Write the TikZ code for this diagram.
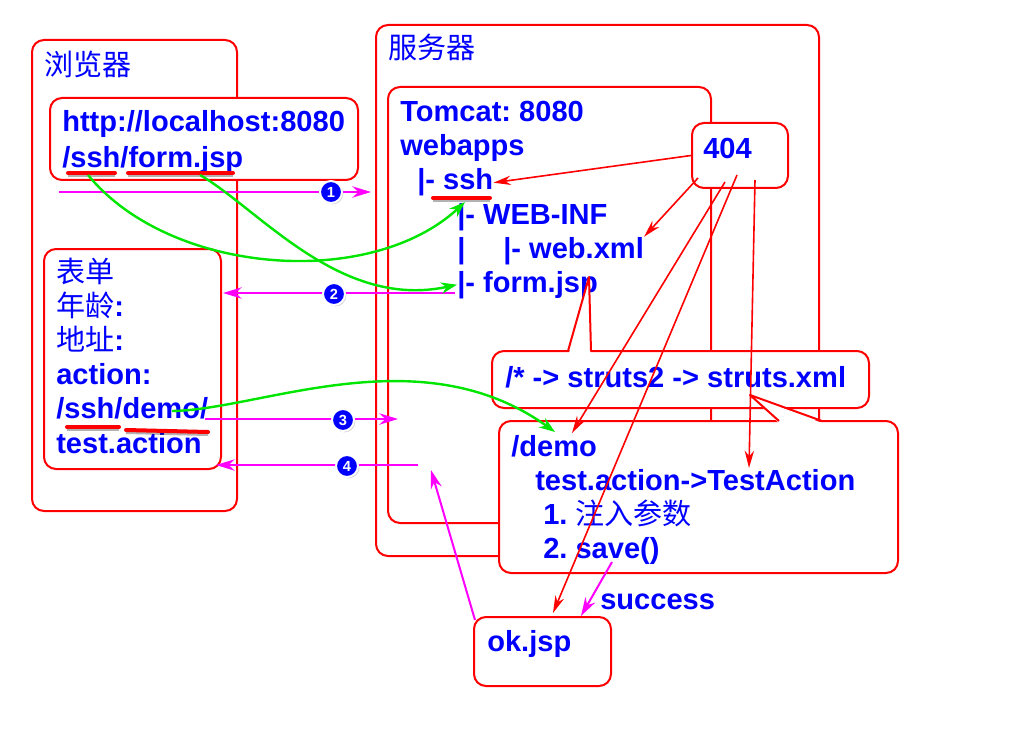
\documentclass[tikz,border=0pt]{standalone}
\usepackage{fontspec}
\setmainfont{Liberation Sans}
\newfontfamily\cjk{Noto Sans CJK SC}
\usetikzlibrary{arrows.meta,fit,shadows}
\definecolor{boxred}{RGB}{255,0,0}
\definecolor{txblue}{RGB}{0,0,255}
\definecolor{reqpink}{RGB}{255,0,255}
\definecolor{jumpgreen}{RGB}{0,230,0}
\tikzset{
  box/.style={draw=boxred,fill=white,line width=1.5pt,rounded corners=9pt,inner sep=0pt},
  txt/.style={anchor=base west,inner sep=0pt,text=txblue,font=\frenchspacing\bfseries\fontsize{21.8}{26}\selectfont},
  hz/.style={font=\cjk\fontsize{21.8}{26}\selectfont},
  num/.style={circle,fill=txblue,draw=white,line width=1.5pt,inner sep=0pt,minimum size=16.5pt,
    text=white,font=\bfseries\fontsize{11}{11}\selectfont,
    drop shadow={opacity=.4,shadow xshift=1pt,shadow yshift=-1pt}},
  req/.style={reqpink,line width=1.5pt,-{Stealth[length=14pt,width=8.5pt]}},
  jump/.style={jumpgreen,line width=1.8pt,-{Stealth[length=12pt,width=8.5pt]}},
  miss/.style={boxred,line width=1.2pt,-{Stealth[length=13pt,width=7pt]}},
  redbar/.style={boxred,line width=3pt,line cap=round,
    preaction={draw=black,opacity=.3,line width=3pt,transform canvas={yshift=-1.5pt}}},
  tip/.style={draw=boxred,line width=1.5pt,line join=round},
}
\newcommand\hzt[1]{{\cjk\mdseries #1}}
\begin{document}
\begin{tikzpicture}[x=0.75pt,y=-0.75pt]
\useasboundingbox (0,0) rectangle (1024,738);
% browser side
\node[box,fit={(32,40)(237,511)}] (browser) {};
\node[txt,hz] (browser-title) at (44,76) {浏览器};
\node[box,fit={(50,98)(358,180)}] (url) {};
\node[txt] (url-1) at (62,132) {http://localhost:8080};
\node[txt] (url-2) at (62,167) {/ssh/form.jsp};
\node[box,fit={(44,249)(221,469)}] (form) {};
\foreach \t [count=\i] in {{\hzt{表单}},{\hzt{年龄}:},{\hzt{地址}:},action:,/ssh/demo/,test.action}
  \node[txt] (form-\i) at (56,{282+(\i-1)*34.2}) {\t};
% server side
\node[box,fit={(376,25)(819,556)}] (server) {};
\node[txt,hz] (server-title) at (388,59) {服务器};
\node[box,fit={(388,87)(711,523)}] (tomcat) {};
\foreach \x/\t [count=\i] in {400/Tomcat: 8080,400/webapps,417/{|- ssh},457/{|- WEB-INF},457/{|\hspace{28.4pt}|- web.xml},457/{|- form.jsp}}
  \node[txt] (tc-\i) at (\x,{122+(\i-1)*34}) {\t};
\node[box,fit={(692,123)(788,188)}] (e404) {};
\node[txt] (e404-t) at (703,159) {404};
% struts callout
\node[box,fit={(492,351)(869,408)}] (struts) {};
\fill[white] (569,353) -- (589,277) -- (590.5,353) -- cycle;
\draw[tip] (568,351) -- (589,277) -- (591,351);
\node[txt] (struts-t) at (505,387) {/* -> struts2 -> struts.xml};
% action callout
\node[box,fit={(499,421)(898,573)}] (demo) {};
\fill[white] (779,423) -- (750,395) -- (822,423) -- cycle;
\draw[tip] (779,421) -- (750,395) -- (822,421);
\node[txt] (demo-1) at (511,456) {/demo};
\node[txt] (demo-2) at (535,490) {test.action->TestAction};
\node[txt] (demo-3) at (543,524) {1. \hzt{注入参数}};
\node[txt] (demo-4) at (543,558) {2. save()};
\node[box,fit={(474,617)(611,686)}] (okjsp) {};
\node[txt] (okjsp-t) at (487,651) {ok.jsp};
\node[txt] (success) at (600,609) {success};
% underlines
\draw[redbar] (68,173) coordinate (u-ssh) -- (115,173);
\draw[redbar] (128,173) coordinate (u-form) -- (233,173);
\draw[redbar] (433,198) -- (490,198);
\draw[redbar] (67,427) -- (119,427);
\draw[redbar] (126,430) -- (208,432);
% requests
\coordinate (r1a) at (59,192);   \coordinate (r1b) at (371,192);
\coordinate (r2a) at (455,293);  \coordinate (r2b) at (223,293);
\coordinate (r3a) at (205,419);  \coordinate (r3b) at (398,419);
\coordinate (r4a) at (418,465);  \coordinate (r4b) at (216,465);
\draw[req] (r1a) -- (r1b);
\draw[req] (r2a) -- (r2b);
\draw[req] (r3a) -- (r3b);
\draw[req] (r4a) -- (r4b);
\node[num] (n1) at (331,192) {1};
\node[num] (n2) at (334,294) {2};
\node[num] (n3) at (343,420) {3};
\node[num] (n4) at (347,466) {4};
\coordinate (save-end) at (612,562);
\coordinate (ok-in) at (581,616);
\coordinate (ok-out) at (475,620);
\coordinate (back) at (431,470);
\draw[req] (save-end) -- (ok-in);
\draw[req] (ok-out) -- (back);
% mapping
\coordinate (g1a) at (88,175);
\coordinate (g1b) at (465,202);
\coordinate (g2a) at (200,175);
\coordinate (g3a) at (172,411);
\coordinate (g3b) at (555,432);
\draw[jump] (g1a) .. controls (170,275) and (370,290) .. (g1b);
\draw[jump] (g2a) .. controls (260,210) and (340,310) .. (tc-6.west);
\draw[jump] (g3a) .. controls (260,410) and (420,335) .. (g3b);
% 404
\coordinate (m2a) at (698,178);
\coordinate (m3a) at (725,182);  \coordinate (m3b) at (572,433);
\coordinate (m4a) at (737,175);  \coordinate (m4b) at (553,613);
\coordinate (m5a) at (755,180);  \coordinate (m5b) at (749,468);
\draw[miss] (e404.west) -- (tc-3.east);
\draw[miss] (m2a) -- (tc-5.north east);
\draw[miss] (m3a) -- (m3b);
\draw[miss] (m4a) -- (m4b);
\draw[miss] (m5a) -- (m5b);
\end{tikzpicture}
\end{document}
